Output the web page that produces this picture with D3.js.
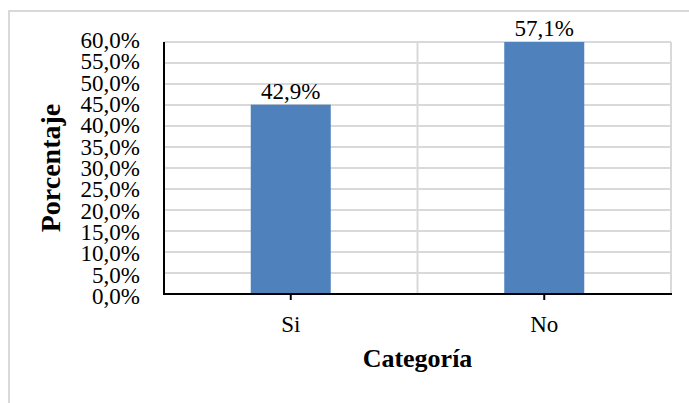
<!DOCTYPE html>
<html>
<head>
<meta charset="utf-8">
<script src="https://cdn.jsdelivr.net/npm/d3@7"></script>
<style>
  html, body { margin: 0; padding: 0; background: #fff; }
  svg { display: block; }
  text { font-family: "Liberation Serif", "Times New Roman", serif; fill: #000; }
</style>
</head>
<body>
<script>
// Data
const categories = ["Si", "No"];
const values = [42.9, 57.1];
const valueLabels = ["42,9%", "57,1%"];
const tickValues = [0, 5, 10, 15, 20, 25, 30, 35, 40, 45, 50, 55, 60];
const tickLabels = ["0,0%", "5,0%", "10,0%", "15,0%", "20,0%", "25,0%", "30,0%",
                    "35,0%", "40,0%", "45,0%", "50,0%", "55,0%", "60,0%"];
const xTitle = "Categoría";
const yTitle = "Porcentaje";

const W = 689, H = 403;
const plot = { left: 164, right: 671, top: 42, bottom: 294 };
const gridDivisions = 12;
const labelSize = 23, titleSize = 26, yTitleSize = 28;

const svg = d3.select("body").append("svg").attr("width", W).attr("height", H);

// outer chart frame
svg.append("rect")
  .attr("x", 9).attr("y", 11).attr("width", 720).attr("height", 440)
  .attr("fill", "#fff").attr("stroke", "#d9d9d9").attr("stroke-width", 2);

// value scale: the tallest bar reaches the top of the plot
const yMax = d3.max(values);
const y = d3.scaleLinear().domain([0, yMax]).range([plot.bottom, plot.top]);
// label scale for the tick texts
const yLab = d3.scaleLinear().domain([0, 60]).range([plot.bottom + 2, plot.top - 2]);

const x = d3.scaleBand().domain(categories).range([plot.left, plot.right]).paddingInner(0).paddingOuter(0);
const barW = 80;

// horizontal gridlines
const gridVals = d3.range(1, gridDivisions + 1).map(i => yMax * i / gridDivisions);
svg.append("g").selectAll("line").data(gridVals).join("line")
  .attr("x1", plot.left).attr("x2", plot.right)
  .attr("y1", d => y(d)).attr("y2", d => y(d))
  .attr("stroke", "#d9d9d9").attr("stroke-width", 2);

// vertical gridlines between categories and at the right edge
const vLines = [x(categories[1]), plot.right];
svg.append("g").selectAll("line").data(vLines).join("line")
  .attr("x1", d => d).attr("x2", d => d)
  .attr("y1", plot.top).attr("y2", plot.bottom)
  .attr("stroke", "#d9d9d9").attr("stroke-width", 2);

// bars
svg.append("g").selectAll("rect").data(values).join("rect")
  .attr("x", (d, i) => x(categories[i]) + x.bandwidth() / 2 - barW / 2)
  .attr("width", barW)
  .attr("y", d => y(d))
  .attr("height", d => y(0) - y(d))
  .attr("fill", "#4f81bd");

// data labels
svg.append("g").selectAll("text").data(values).join("text")
  .attr("x", (d, i) => x(categories[i]) + x.bandwidth() / 2)
  .attr("y", d => y(d) - 6)
  .attr("text-anchor", "middle")
  .attr("font-size", labelSize)
  .text((d, i) => valueLabels[i]);

// axes lines
svg.append("line")
  .attr("x1", plot.left).attr("x2", plot.left)
  .attr("y1", plot.top).attr("y2", plot.bottom + 1)
  .attr("stroke", "#000").attr("stroke-width", 2);
svg.append("line")
  .attr("x1", plot.left - 1).attr("x2", plot.right + 1)
  .attr("y1", plot.bottom).attr("y2", plot.bottom)
  .attr("stroke", "#000").attr("stroke-width", 2);

// x ticks
svg.append("g").selectAll("line").data(categories).join("line")
  .attr("x1", d => x(d) + x.bandwidth() / 2).attr("x2", d => x(d) + x.bandwidth() / 2)
  .attr("y1", plot.bottom).attr("y2", plot.bottom + 6)
  .attr("stroke", "#000").attr("stroke-width", 2);

// y tick labels
svg.append("g").selectAll("text").data(tickValues).join("text")
  .attr("x", 140)
  .attr("y", d => yLab(d))
  .attr("dy", "0.35em")
  .attr("text-anchor", "end")
  .attr("font-size", labelSize)
  .text((d, i) => tickLabels[i]);

// category labels
svg.append("g").selectAll("text").data(categories).join("text")
  .attr("x", d => x(d) + x.bandwidth() / 2)
  .attr("y", 332)
  .attr("text-anchor", "middle")
  .attr("font-size", labelSize)
  .text(d => d);

// axis titles
svg.append("text")
  .attr("x", (plot.left + plot.right) / 2).attr("y", 367)
  .attr("text-anchor", "middle")
  .attr("font-size", titleSize).attr("font-weight", "bold")
  .text(xTitle);

svg.append("text")
  .attr("transform", `translate(60, ${(plot.top + plot.bottom) / 2}) rotate(-90)`)
  .attr("text-anchor", "middle")
  .attr("font-size", yTitleSize).attr("font-weight", "bold")
  .text(yTitle);
</script>
</body>
</html>
